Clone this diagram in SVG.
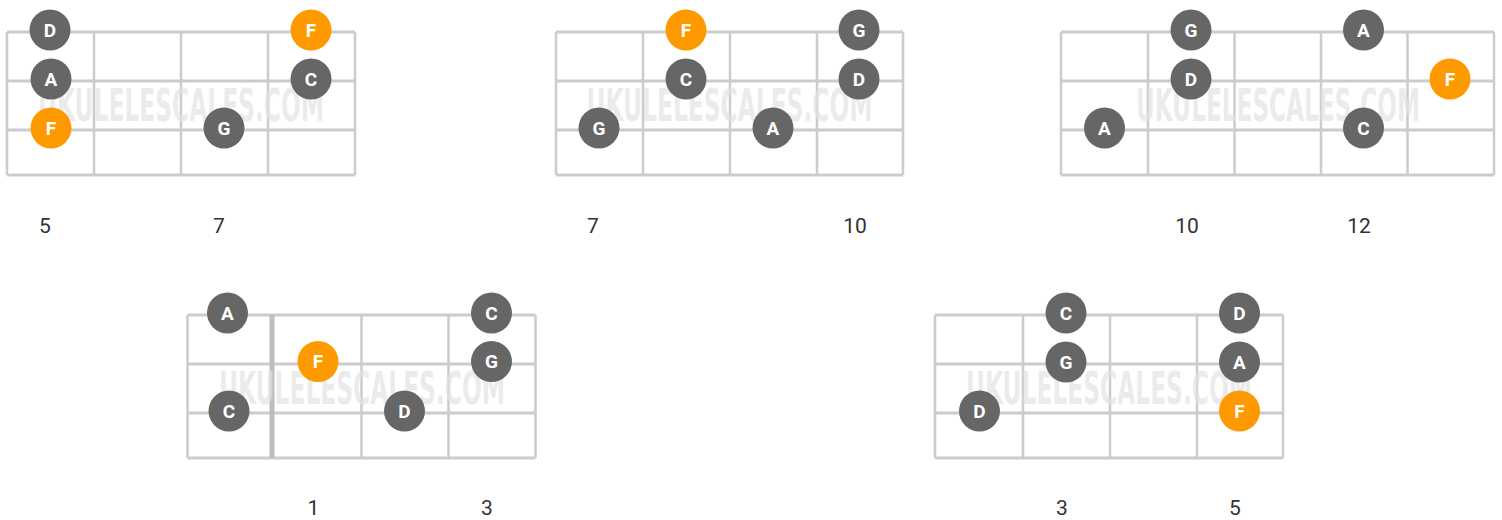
<svg xmlns="http://www.w3.org/2000/svg" width="1502" height="520" viewBox="0 0 1502 520">
<style>
.bg{fill:#ffffff}
.str{stroke:#cccccc;stroke-width:3;fill:none}
.fret{stroke:#cccccc;stroke-width:2.5;fill:none}
.nut{stroke:#bdbdbd;stroke-width:5;fill:none}
.wm{font-family:"DejaVu Sans Condensed","DejaVu Sans",sans-serif;font-weight:700;font-size:45px;fill:#e3e3e3;fill-opacity:0.7;text-anchor:middle}
.n{fill:#666666}
.r{fill:#ff9900}
.nt{font-family:Roboto,"Liberation Sans",sans-serif;font-weight:700;font-size:19px;fill:#ffffff;text-anchor:middle}
.fl{font-family:Roboto,"Liberation Sans",sans-serif;font-size:21px;fill:#333333;text-anchor:middle}
</style>
<rect class="bg" x="0" y="0" width="1502" height="520"/>

<g id="diagram1">
  <path class="str" d="M7,32H355M7,81H355M7,130H355M7,175H355"/>
  <path class="fret" d="M7,32V175M94,32V175M181,32V175M268,32V175M355,32V175"/>
  <text class="wm" x="181" y="121" textLength="286" lengthAdjust="spacingAndGlyphs">UKULELESCALES.COM</text>
  <g id="d1-D1"><circle class="n" cx="50" cy="30" r="20.5"/><text class="nt" x="50" y="36.8">D</text></g>
  <g id="d1-F1"><circle class="r" cx="311" cy="30" r="20.5"/><text class="nt" x="311" y="36.8">F</text></g>
  <g id="d1-A"><circle class="n" cx="51" cy="79" r="20.5"/><text class="nt" x="51" y="85.8">A</text></g>
  <g id="d1-C"><circle class="n" cx="311" cy="79" r="20.5"/><text class="nt" x="311" y="85.8">C</text></g>
  <g id="d1-F2"><circle class="r" cx="51" cy="128" r="20.5"/><text class="nt" x="51" y="134.8">F</text></g>
  <g id="d1-G"><circle class="n" cx="224" cy="128" r="20.5"/><text class="nt" x="224" y="134.8">G</text></g>
  <text class="fl" x="45" y="233">5</text>
  <text class="fl" x="219" y="233">7</text>
</g>

<g id="diagram2">
  <path class="str" d="M556,32H903M556,81H903M556,130H903M556,175H903"/>
  <path class="fret" d="M556,32V175M643,32V175M730,32V175M817,32V175M903,32V175"/>
  <text class="wm" x="729.5" y="121" textLength="286" lengthAdjust="spacingAndGlyphs">UKULELESCALES.COM</text>
  <g id="d2-F"><circle class="r" cx="686" cy="30" r="20.5"/><text class="nt" x="686" y="36.8">F</text></g>
  <g id="d2-G1"><circle class="n" cx="859" cy="30" r="20.5"/><text class="nt" x="859" y="36.8">G</text></g>
  <g id="d2-C"><circle class="n" cx="686" cy="79" r="20.5"/><text class="nt" x="686" y="85.8">C</text></g>
  <g id="d2-D"><circle class="n" cx="859" cy="79" r="20.5"/><text class="nt" x="859" y="85.8">D</text></g>
  <g id="d2-G2"><circle class="n" cx="599" cy="128" r="20.5"/><text class="nt" x="599" y="134.8">G</text></g>
  <g id="d2-A"><circle class="n" cx="773" cy="128" r="20.5"/><text class="nt" x="773" y="134.8">A</text></g>
  <text class="fl" x="593" y="233">7</text>
  <text class="fl" x="855" y="233">10</text>
</g>

<g id="diagram3">
  <path class="str" d="M1061,32H1494M1061,81H1494M1061,130H1494M1061,175H1494"/>
  <path class="fret" d="M1061,32V175M1148,32V175M1234.5,32V175M1321,32V175M1407.5,32V175M1494,32V175"/>
  <text class="wm" x="1278" y="121" textLength="284" lengthAdjust="spacingAndGlyphs">UKULELESCALES.COM</text>
  <g id="d3-G"><circle class="n" cx="1191" cy="30" r="20.5"/><text class="nt" x="1191" y="36.8">G</text></g>
  <g id="d3-A1"><circle class="n" cx="1363.5" cy="30" r="20.5"/><text class="nt" x="1363.5" y="36.8">A</text></g>
  <g id="d3-D"><circle class="n" cx="1191" cy="79" r="20.5"/><text class="nt" x="1191" y="85.8">D</text></g>
  <g id="d3-F"><circle class="r" cx="1450" cy="79" r="20.5"/><text class="nt" x="1450" y="85.8">F</text></g>
  <g id="d3-A2"><circle class="n" cx="1104.5" cy="128" r="20.5"/><text class="nt" x="1104.5" y="134.8">A</text></g>
  <g id="d3-C"><circle class="n" cx="1363.5" cy="128" r="20.5"/><text class="nt" x="1363.5" y="134.8">C</text></g>
  <text class="fl" x="1187" y="233">10</text>
  <text class="fl" x="1359" y="233">12</text>
</g>

<g id="diagram4">
  <path class="str" d="M187.5,315H535.5M187.5,364H535.5M187.5,413H535.5M187.5,458H535.5"/>
  <path class="fret" d="M187.5,315V458M361.5,315V458M448.5,315V458M535.5,315V458"/>
  <path class="nut" d="M272,315V458"/>
  <text class="wm" x="362" y="404" textLength="286" lengthAdjust="spacingAndGlyphs">UKULELESCALES.COM</text>
  <g id="d4-A"><circle class="n" cx="227.5" cy="313" r="20.5"/><text class="nt" x="227.5" y="319.8">A</text></g>
  <g id="d4-C1"><circle class="n" cx="491.5" cy="313" r="20.5"/><text class="nt" x="491.5" y="319.8">C</text></g>
  <g id="d4-F"><circle class="r" cx="318" cy="361.5" r="20.5"/><text class="nt" x="318" y="368.3">F</text></g>
  <g id="d4-G"><circle class="n" cx="491.5" cy="361.5" r="20.5"/><text class="nt" x="491.5" y="368.3">G</text></g>
  <g id="d4-C2"><circle class="n" cx="229" cy="411" r="20.5"/><text class="nt" x="229" y="417.8">C</text></g>
  <g id="d4-D"><circle class="n" cx="404.5" cy="411" r="20.5"/><text class="nt" x="404.5" y="417.8">D</text></g>
  <text class="fl" x="313.5" y="515">1</text>
  <text class="fl" x="487" y="515">3</text>
</g>

<g id="diagram5">
  <path class="str" d="M935,315H1283M935,364H1283M935,413H1283M935,458H1283"/>
  <path class="fret" d="M935,315V458M1023,315V458M1110,315V458M1197,315V458M1283,315V458"/>
  <text class="wm" x="1109" y="404" textLength="286" lengthAdjust="spacingAndGlyphs">UKULELESCALES.COM</text>
  <g id="d5-C"><circle class="n" cx="1066" cy="313" r="20.5"/><text class="nt" x="1066" y="319.8">C</text></g>
  <g id="d5-D1"><circle class="n" cx="1239.5" cy="313" r="20.5"/><text class="nt" x="1239.5" y="319.8">D</text></g>
  <g id="d5-G"><circle class="n" cx="1066" cy="362" r="20.5"/><text class="nt" x="1066" y="368.8">G</text></g>
  <g id="d5-A"><circle class="n" cx="1239.5" cy="362" r="20.5"/><text class="nt" x="1239.5" y="368.8">A</text></g>
  <g id="d5-D2"><circle class="n" cx="979.5" cy="411" r="20.5"/><text class="nt" x="979.5" y="417.8">D</text></g>
  <g id="d5-F"><circle class="r" cx="1239.5" cy="411" r="20.5"/><text class="nt" x="1239.5" y="417.8">F</text></g>
  <text class="fl" x="1062" y="515">3</text>
  <text class="fl" x="1235" y="515">5</text>
</g>
</svg>
